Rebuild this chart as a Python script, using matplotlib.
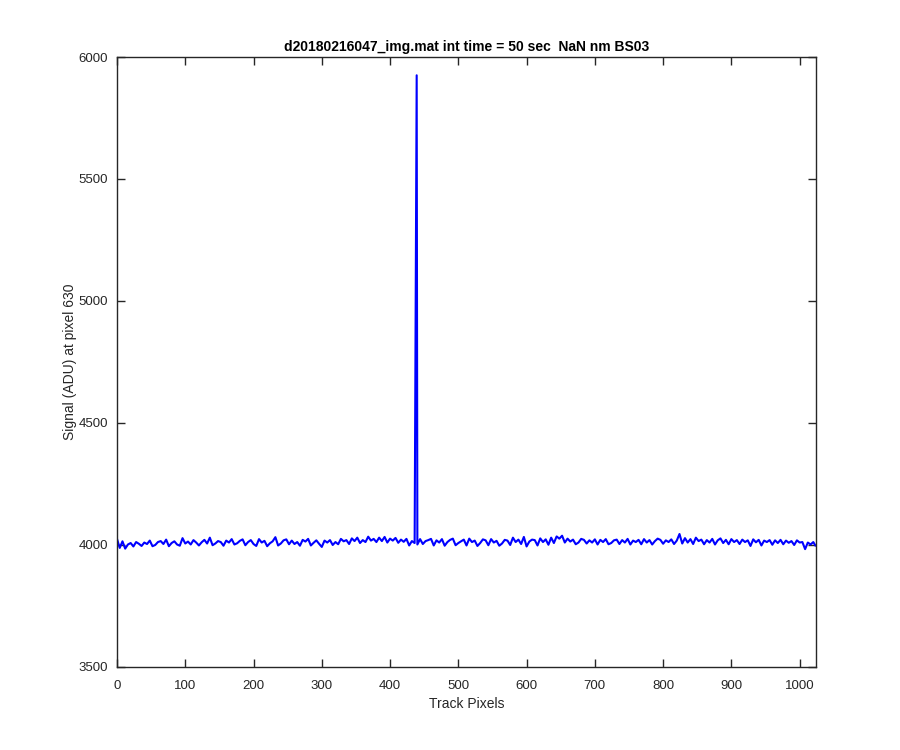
import numpy as np
import matplotlib
matplotlib.use("Agg")
import matplotlib.pyplot as plt

plt.rcParams['font.family'] = ['Liberation Sans', 'DejaVu Sans']

title = "d20180216047_img.mat int time = 50 sec  NaN nm BS03"
xlabel = "Track Pixels"
ylabel = "Signal (ADU) at pixel 630"

base_x = list(range(0, 1024, 4)) + [1023]
base_y = [
    4025, 3988, 4015, 3985, 4002, 4008, 3994, 4012, 4005, 3996, 4010, 4004, 4018, 3995, 4000, 4012,
    4016, 4004, 4022, 3995, 4008, 4015, 4002, 3997, 4028, 4006, 4014, 4002, 4020, 4010, 3998, 4011,
    4021, 4006, 4030, 3999, 4006, 4016, 4012, 3997, 4018, 4010, 4024, 4002, 4007, 4017, 4023, 3999,
    4012, 4020, 4004, 3996, 4024, 4010, 4017, 3995, 4007, 4015, 4032, 3998, 4006, 4019, 4023, 4003,
    4018, 4004, 4012, 3997, 4021, 4014, 4025, 3998, 4009, 4019, 4005, 3992, 4018, 4010, 4020, 4000,
    4012, 4003, 4025, 4015, 4020, 4004, 4027, 4016, 4030, 4008, 4020, 4012, 4034, 4018, 4025, 4012,
    4030, 4016, 4033, 4010, 4026, 4018, 4029, 4009, 4022, 4013, 4025, 3998, 4016, 4008, 4002, 4024,
    4004, 4016, 4020, 4025, 3998, 4019, 4010, 4024, 3997, 4012, 4021, 4026, 3999, 4008, 4015, 4022,
    3998, 4026, 4012, 4018, 3996, 4008, 4023, 4019, 3999, 4024, 4010, 4017, 3997, 4006, 4021, 4018,
    4000, 4030, 4012, 4022, 4004, 4033, 3994, 4014, 4022, 4020, 3998, 4027, 4012, 4023, 4001, 4030,
    4008, 4035, 4026, 4038, 4010, 4026, 4014, 4022, 4003, 4010, 4025, 4021, 4006, 4019, 4010, 4023,
    4002, 4021, 4012, 4024, 4003, 4008, 4019, 4022, 4004, 4020, 4010, 4025, 4002, 4018, 4012, 4021,
    4003, 4024, 4010, 4020, 4002, 4016, 4026, 4021, 4005, 4019, 4012, 4023, 4004, 4018, 4045, 4006,
    4028, 4010, 4024, 4004, 4030, 4016, 4022, 4003, 4020, 4010, 4025, 4002, 4019, 4027, 4008, 4021,
    4003, 4024, 4012, 4020, 4004, 4022, 4012, 4019, 3996, 4023, 4011, 4021, 3998, 4018, 4012, 4020,
    4001, 4019, 4008, 4021, 4003, 4018, 4009, 4016, 4000, 4019, 4010, 4012, 3983, 4010, 4002, 4012,
    3998,
]
spike_x = [439]
spike_y = [5925]

xs = np.array(base_x + spike_x, dtype=float)
ys = np.array(base_y + spike_y, dtype=float)
order = np.argsort(xs, kind="stable")
xs, ys = xs[order], ys[order]

fig = plt.figure(figsize=(9, 7.5), dpi=100)
ax = fig.add_axes([0.13, 0.1107, 0.7767, 0.8133])
ax.plot(xs, ys, color=(0, 0, 1), linewidth=1.5)

ax.set_xlim(0, 1024)
ax.set_ylim(3500, 6000)
ax.set_xticks(np.arange(0, 1001, 100))
ax.set_yticks(np.arange(3500, 6001, 500))

axc = (0.15, 0.15, 0.15)
for s in ax.spines.values():
    s.set_color(axc)
    s.set_linewidth(1.0)
ax.tick_params(direction='in', top=True, right=True, length=6, width=1.0,
               colors=axc, labelsize=9.5, labelcolor=axc)
ax.tick_params(axis='x', pad=9.5)
ax.tick_params(axis='y', pad=6.5)
ax.set_title(title, fontsize=10, fontweight='bold', color='black', pad=4)
ax.set_xlabel(xlabel, fontsize=10, color=axc, labelpad=3.5)
ax.set_ylabel(ylabel, fontsize=10, color=axc, labelpad=1)

fig.savefig("out.png", dpi=100)
